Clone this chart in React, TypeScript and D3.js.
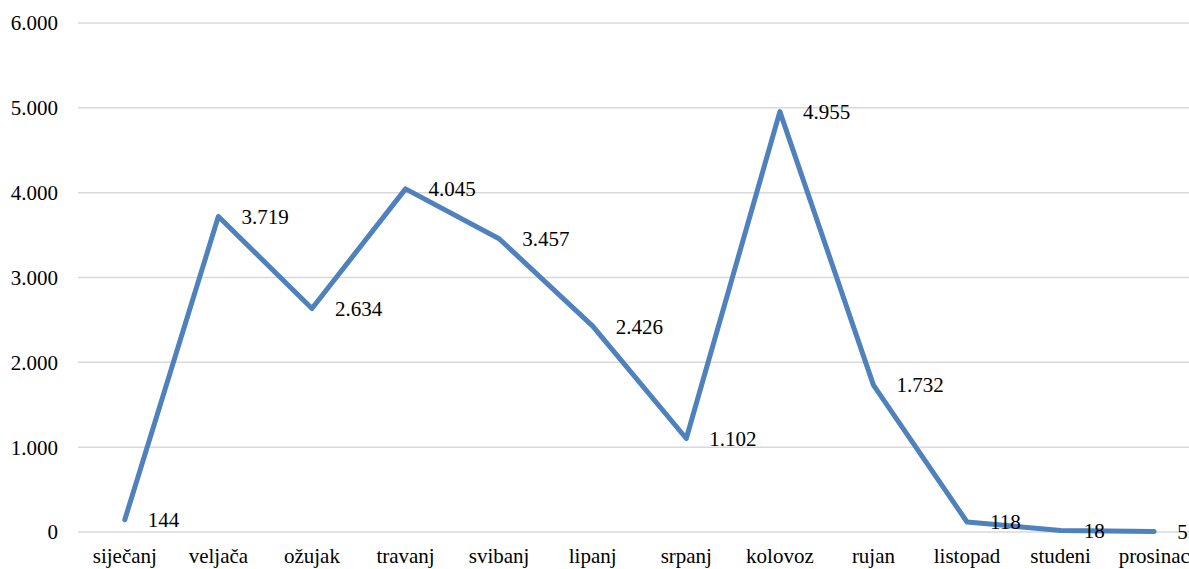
import React from "react";
import * as d3 from "d3";

const months = ["siječanj", "veljača", "ožujak", "travanj", "svibanj", "lipanj", "srpanj", "kolovoz", "rujan", "listopad", "studeni", "prosinac"];
const values = [144, 3719, 2634, 4045, 3457, 2426, 1102, 4955, 1732, 118, 18, 5];
const yTicks = [0, 1000, 2000, 3000, 4000, 5000, 6000];

const W = 1189;
const H = 569;
const left = 78;
const right = 1201;
const top = 23;
const bottom = 532;
const font = "Liberation Serif, Times New Roman, Times, DejaVu Serif, serif";
const fs = 21;

const fmt = (v: number) => {
  const s = String(Math.round(v));
  return s.replace(/\B(?=(\d{3})+(?!\d))/g, ".");
};

export default function App() {
  const x = d3.scalePoint<string>().domain(months).range([left, right]).padding(0.5);
  const y = d3.scaleLinear().domain([0, 6000]).range([bottom, top]);
  const line = d3
    .line<number>()
    .x((_, i) => x(months[i]) as number)
    .y((d) => y(d));

  return (
    <svg width={W} height={H} style={{ position: "absolute", left: 0, top: 0, background: "#fff", fontFamily: font }}>
      {yTicks.map((t) => (
        <g key={t}>
          <line x1={left} x2={W} y1={y(t)} y2={y(t)} stroke="#d9d9d9" strokeWidth={1.5} />
          <text x={58} y={y(t)} dy="0.35em" textAnchor="end" style={{ fontFamily: font }} fontSize={fs} fill="#000">
            {fmt(t)}
          </text>
        </g>
      ))}
      <path d={line(values) || ""} fill="none" stroke="#4f81bd" strokeWidth={5} strokeLinejoin="round" strokeLinecap="round" />
      {values.map((v, i) => (
        <text key={i} x={(x(months[i]) as number) + 23} y={y(v)} dy="0.35em" style={{ fontFamily: font }} fontSize={fs} fill="#000">
          {fmt(v)}
        </text>
      ))}
      {months.map((m) => (
        <text key={m} x={x(m) as number} y={563} textAnchor="middle" style={{ fontFamily: font }} fontSize={fs} fill="#000">
          {m}
        </text>
      ))}
    </svg>
  );
}
